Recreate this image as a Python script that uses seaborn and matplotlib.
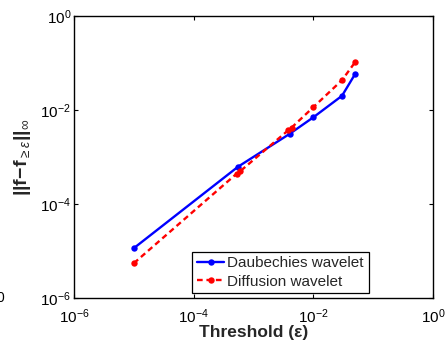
import matplotlib
matplotlib.use("Agg")
import matplotlib.pyplot as plt
import seaborn as sns
import pandas as pd

# Data
daub_x = [1e-5, 5.5e-4, 4e-3, 1e-2, 3e-2, 5e-2]
daub_y = [1.15e-5, 6.2e-4, 3.1e-3, 7e-3, 2e-2, 5.9e-2]
diff_x = [1e-5, 5.2e-4, 6e-4, 3.8e-3, 4.3e-3, 1e-2, 3e-2, 5e-2]
diff_y = [5.5e-6, 4.4e-4, 5.0e-4, 3.7e-3, 4.2e-3, 1.15e-2, 4.3e-2, 1.05e-1]
series_names = ["Daubechies wavelet", "Diffusion wavelet"]
x_ticks = [1e-6, 1e-4, 1e-2, 1e0]
y_ticks = [1e-6, 1e-4, 1e-2, 1e0]

sns.set_style("ticks")
plt.rcParams["font.family"] = ["Liberation Sans", "DejaVu Sans"]
plt.rcParams["mathtext.fontset"] = "custom"
plt.rcParams["mathtext.rm"] = "Liberation Sans"
plt.rcParams["mathtext.it"] = "Liberation Sans:italic"
plt.rcParams["mathtext.bf"] = "Liberation Sans:bold"
plt.rcParams["mathtext.sf"] = "Liberation Sans"

df = pd.concat([
    pd.DataFrame({"x": daub_x, "y": daub_y, "method": series_names[0]}),
    pd.DataFrame({"x": diff_x, "y": diff_y, "method": series_names[1]}),
], ignore_index=True)

fig = plt.figure(figsize=(4.48, 3.45), dpi=100)
ax = fig.add_axes([0.165, 0.136, 0.802, 0.818])

sns.lineplot(data=df, x="x", y="y", hue="method", style="method",
             palette={series_names[0]: "#0000ff", series_names[1]: "#ff0000"},
             dashes={series_names[0]: "", series_names[1]: (2.4, 1.6)},
             markers={series_names[0]: "o", series_names[1]: "o"},
             markersize=4.6, markeredgewidth=0, linewidth=1.7,
             sort=False, estimator=None, ax=ax)

ax.set_xscale("log")
ax.set_yscale("log")
ax.set_xlim(1e-6, 1e0)
ax.set_ylim(1e-6, 1e0)
ax.set_xticks(x_ticks)
ax.set_yticks(y_ticks)
ax.minorticks_off()
ax.tick_params(which="both", direction="in", top=True, right=True,
               labelsize=11, length=3, width=0.8, colors="black")
ax.tick_params(axis="x", pad=7)
ax.tick_params(axis="y", pad=2)
for s in ax.spines.values():
    s.set_visible(True)
    s.set_linewidth(1.0)
    s.set_color("black")

ax.set_xlabel("Threshold (ε)", fontsize=12.5, fontweight="bold", labelpad=-1)
ax.set_ylabel(r"$\mathbf{||f\!-\!f}_{\geq\epsilon}\mathbf{||}_{\infty}$", fontsize=14, labelpad=5)

leg = ax.legend(loc="lower right", bbox_to_anchor=(0.82, 0.017), borderaxespad=0,
                fontsize=11, frameon=True, fancybox=False, handlelength=1.8,
                handletextpad=0.2, borderpad=0.3, labelspacing=0.3, title=None)
leg.get_frame().set_edgecolor("black")
leg.get_frame().set_linewidth(0.9)
leg.get_frame().set_alpha(1)

fig.text(0.0, 0.136, "0", fontsize=10, ha="center", va="center", color="black")

fig.savefig("out.png", dpi=100)
